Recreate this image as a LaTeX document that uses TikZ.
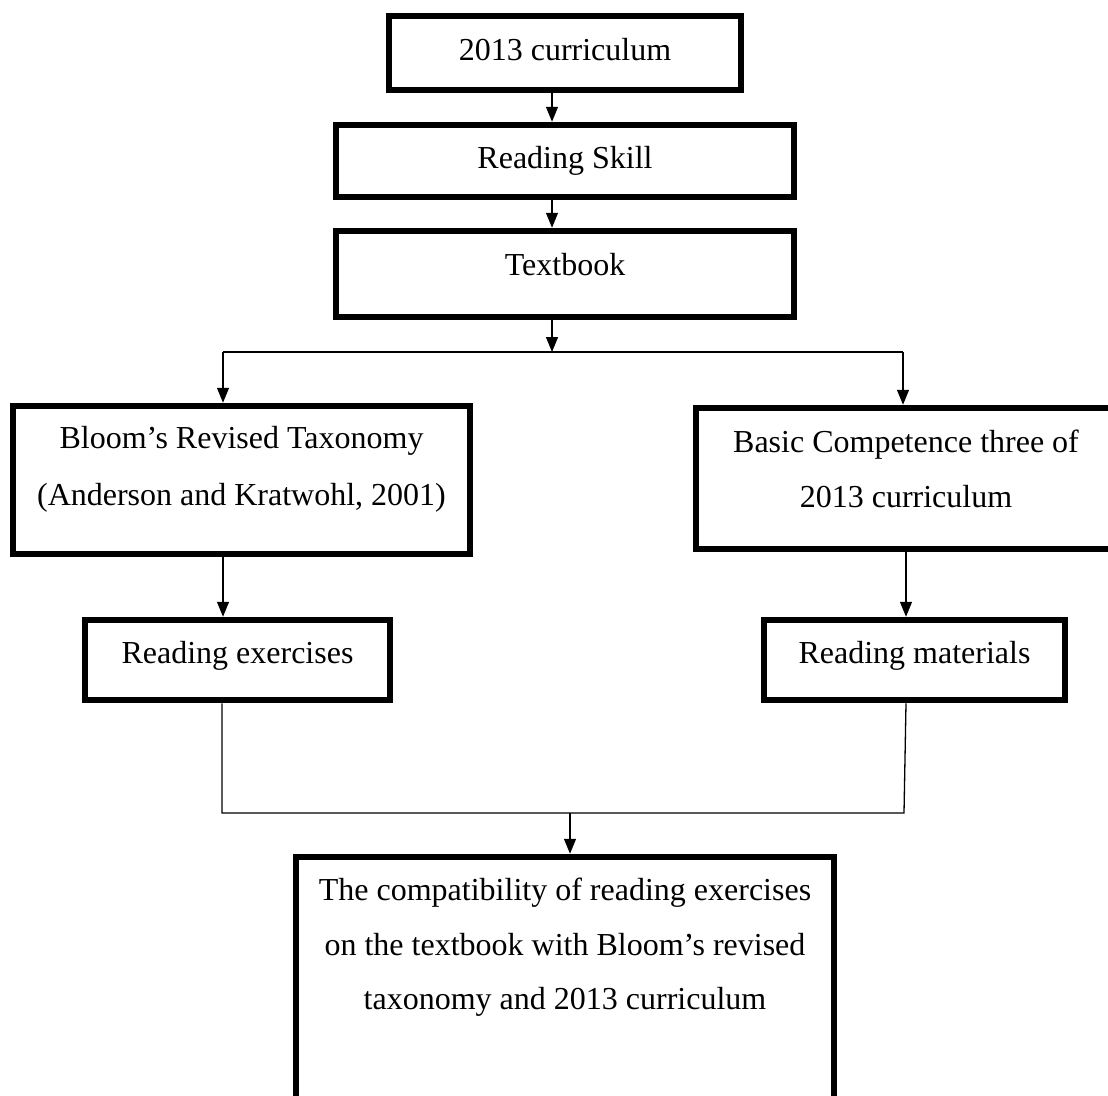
\documentclass[tikz,border=0pt]{standalone}
\usepackage{fontspec}
\setmainfont{Liberation Serif}
\usetikzlibrary{arrows.meta}
\begin{document}
\begin{tikzpicture}[x=1pt,y=-1pt,
  box/.style={draw=black,line width=6.5pt,fill=none,inner sep=0pt,minimum width=#1},
  txt/.style={anchor=base,inner sep=0pt,font=\fontsize{32}{38}\selectfont},
  con/.style={draw=black,line width=1.3pt},
  arr/.style={con,-{Triangle[width=12pt,length=15pt]}}]
\useasboundingbox (0,0) rectangle (1108,1095);
% boxes
\node[box=352pt,minimum height=74pt] (b1) at (565,53) {};
\node[box=458pt,minimum height=72pt] (b2) at (565,161) {};
\node[box=458pt,minimum height=86pt] (b3) at (565,274) {};
\node[box=457pt,minimum height=148pt] (b4) at (241.5,480) {};
\node[box=420pt,minimum height=141pt] (b6) at (906,478.5) {};
\node[box=305pt,minimum height=80pt] (b5) at (237.5,660) {};
\node[box=301pt,minimum height=80pt] (b7) at (914.5,660) {};
\node[box=538pt,minimum height=283pt] (b8) at (565,998.5) {};
% texts
\node[txt] (t1) at (565,60) {2013 curriculum};
\node[txt] (t2) at (565,168) {Reading Skill};
\node[txt] (t3) at (565,275) {Textbook};
\node[txt] (t4a) at (241.5,448) {Bloom’s Revised Taxonomy};
\node[txt] (t4b) at (241.5,505) {(Anderson and Kratwohl, 2001)};
\node[txt] (t6a) at (906,452) {Basic Competence three of};
\node[txt] (t6b) at (906,507) {2013 curriculum};
\node[txt] (t5) at (237.5,663) {Reading exercises};
\node[txt] (t7) at (914.5,663) {Reading materials};
\node[txt] (t8a) at (565,900) {The compatibility of reading exercises};
\node[txt] (t8b) at (565,955) {on the textbook with Bloom’s revised};
\node[txt] (t8c) at (565,1009) {taxonomy and 2013 curriculum};
% junction coordinates
\coordinate (sx) at (552,0);
\coordinate (j1) at (552,352);
\coordinate (l1) at (223,352);
\coordinate (r1) at (903,352);
\coordinate (r2) at (906,0);
\coordinate (l2) at (222,813);
\coordinate (r3) at (904,813);
\coordinate (j2) at (570,813);
% connectors
\draw[arr] (b1.south -| sx) -- (b2.north -| sx);
\draw[arr] (b2.south -| sx) -- (b3.north -| sx);
\draw[arr] (b3.south -| sx) -- (j1);
\draw[con] (l1) -- (r1);
\draw[arr] (l1) -- (l1 |- b4.north);
\draw[arr] (r1) -- (r1 |- b6.north);
\draw[arr] (b4.south -| l1) -- (b5.north -| l1);
\draw[arr] (b6.south -| r2) -- (b7.north -| r2);
\draw[con] (b5.south -| l2) -- (l2) -- (r3) -- (b7.south -| r2);
\draw[arr] (j2) -- (b8.north -| j2);
\end{tikzpicture}
\end{document}
